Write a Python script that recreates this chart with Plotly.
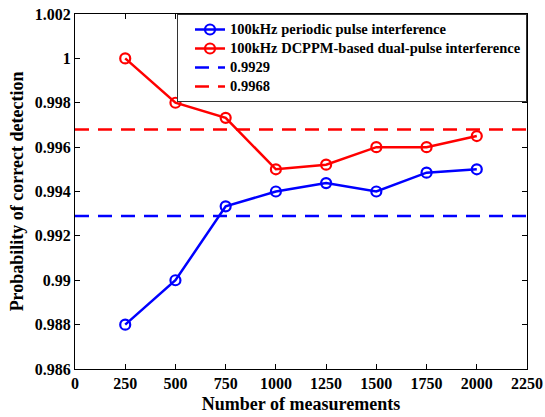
import plotly.graph_objects as go

measurements = [250, 500, 750, 1000, 1250, 1500, 1750, 2000]
periodic = [0.988, 0.990, 0.99333, 0.994, 0.99438, 0.994, 0.99485, 0.995]
dcppm = [1.000, 0.998, 0.99732, 0.995, 0.99521, 0.996, 0.996, 0.9965]
thr_periodic = 0.9929
thr_dcppm = 0.9968
x_ticks = [0, 250, 500, 750, 1000, 1250, 1500, 1750, 2000, 2250]
y_ticks = [0.986, 0.988, 0.99, 0.992, 0.994, 0.996, 0.998, 1.0, 1.002]
y_tick_labels = ["0.986", "0.988", "0.99", "0.992", "0.994", "0.996", "0.998", "1", "1.002"]
series_names = ["100kHz periodic pulse interference",
                "100kHz DCPPM-based dual-pulse interference",
                "0.9929", "0.9968"]

FONT = "Liberation Serif"


def legend_label(s):
    # larger visible text while the legend rows keep a tighter spacing
    return f"<span style='font-size:14.5px'><b>{s}</b></span>"


fig = go.Figure()
fig.add_trace(go.Scatter(x=measurements, y=periodic, mode="lines+markers",
                         name=legend_label(series_names[0]),
                         line=dict(color="#0000ff", width=2.5),
                         marker=dict(symbol="circle-open", size=10, color="#0000ff", line=dict(width=2.2))))
fig.add_trace(go.Scatter(x=measurements, y=dcppm, mode="lines+markers",
                         name=legend_label(series_names[1]),
                         line=dict(color="#ff0000", width=2.5),
                         marker=dict(symbol="circle-open", size=10, color="#ff0000", line=dict(width=2.2))))
fig.add_trace(go.Scatter(x=[x_ticks[0], x_ticks[-1]], y=[thr_periodic, thr_periodic], mode="lines",
                         name=legend_label(series_names[2]),
                         line=dict(color="#0000ff", width=2.5, dash="14px,9px")))
fig.add_trace(go.Scatter(x=[x_ticks[0], x_ticks[-1]], y=[thr_dcppm, thr_dcppm], mode="lines",
                         name=legend_label(series_names[3]),
                         line=dict(color="#ff0000", width=2.5, dash="14px,9px")))

axis_common = dict(showline=True, linecolor="black", linewidth=1, mirror="ticks",
                   ticks="inside", ticklen=5, tickcolor="black", showgrid=False, zeroline=False,
                   automargin=False, ticklabeloverflow="allow",
                   tickfont=dict(family=FONT, size=16, color="black"))
fig.update_xaxes(range=[0, 2250], tickvals=x_ticks, ticktext=[f"<b>{v}</b>" for v in x_ticks],
                 title=dict(text="<b>Number of measurements</b>", font=dict(family=FONT, size=18, color="black"), standoff=6),
                 **axis_common)
fig.update_yaxes(range=[0.986, 1.002], tickvals=y_ticks, ticktext=[f"<b>{t}</b>" for t in y_tick_labels],
                 title=dict(text="<b>Probability of correct detection</b>", font=dict(family=FONT, size=18, color="black"), standoff=6),
                 **axis_common)
fig.update_layout(width=545, height=417, margin=dict(l=75, r=18, t=14, b=48),
                  paper_bgcolor="white", plot_bgcolor="white",
                  font=dict(family=FONT, color="black"),
                  legend=dict(x=1, y=1, xanchor="right", yanchor="top", bgcolor="white",
                              bordercolor="#333333", borderwidth=1, tracegroupgap=0, indentation=12,
                              font=dict(family=FONT, size=11.5, color="black")))
# remove the page's default 8px body margin so the figure fills the window
fig.write_html("out.html", config={"displayModeBar": False},
               post_script="document.body.style.margin='0';")
